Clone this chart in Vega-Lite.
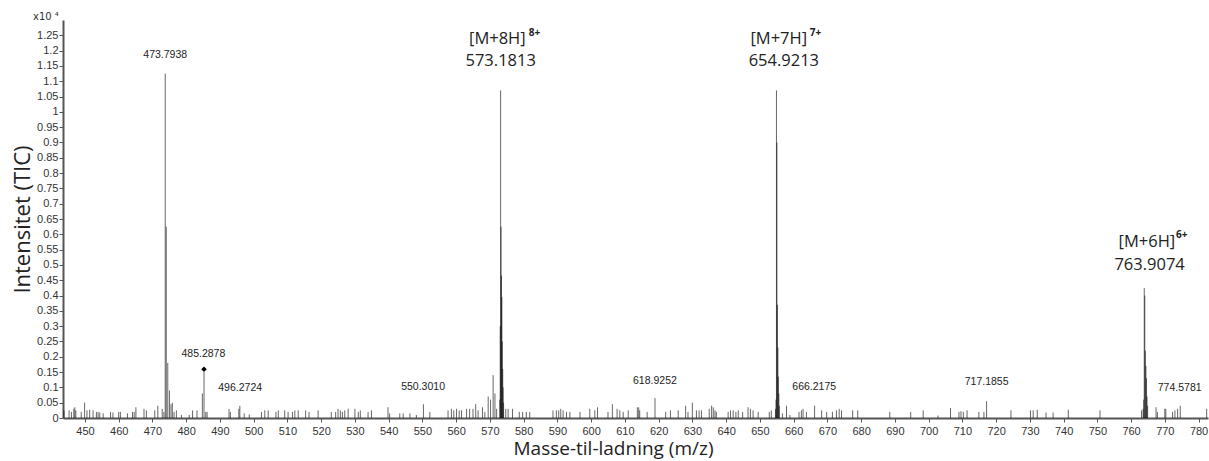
{
  "$schema": "https://vega.github.io/schema/vega-lite/v6.json",
  "autosize": "none",
  "width": 1145,
  "height": 398,
  "padding": {"left": 63, "top": 20, "right": 1, "bottom": 43},
  "background": "white",
  "config": {"view": {"stroke": null}, "font": "Liberation Sans"},
  "title": {"text": "x10 ⁴", "anchor": "start", "frame": "group", "dx": -30, "offset": -2, "fontSize": 10, "font": "DejaVu Sans", "fontWeight": "normal", "color": "#333"},
  "datasets": {
    "spectrum": [
      {"mz": 443.8, "i": 0.025}, {"mz": 445.3, "i": 0.025}, {"mz": 446.0, "i": 0.02}, {"mz": 446.7, "i": 0.03}, {"mz": 447.0, "i": 0.035}, {"mz": 447.3, "i": 0.025},
      {"mz": 448.9, "i": 0.02}, {"mz": 449.9, "i": 0.05}, {"mz": 450.6, "i": 0.025}, {"mz": 451.4, "i": 0.027}, {"mz": 452.4, "i": 0.025}, {"mz": 453.4, "i": 0.02},
      {"mz": 453.9, "i": 0.02}, {"mz": 454.4, "i": 0.018}, {"mz": 455.4, "i": 0.015}, {"mz": 457.6, "i": 0.02}, {"mz": 458.3, "i": 0.018}, {"mz": 460.0, "i": 0.02},
      {"mz": 460.5, "i": 0.02}, {"mz": 462.6, "i": 0.015}, {"mz": 464.1, "i": 0.02}, {"mz": 464.6, "i": 0.02}, {"mz": 465.1, "i": 0.035}, {"mz": 467.5, "i": 0.03},
      {"mz": 468.2, "i": 0.025}, {"mz": 470.7, "i": 0.025}, {"mz": 471.6, "i": 0.04}, {"mz": 472.9, "i": 0.03}, {"mz": 473.4, "i": 0.02},
      {"mz": 473.7938, "i": 1.125}, {"mz": 474.1, "i": 0.625}, {"mz": 474.55, "i": 0.18}, {"mz": 475.05, "i": 0.09}, {"mz": 475.5, "i": 0.045},
      {"mz": 475.9, "i": 0.05}, {"mz": 476.4, "i": 0.02}, {"mz": 477.1, "i": 0.025}, {"mz": 478.6, "i": 0.01}, {"mz": 480.9, "i": 0.01}, {"mz": 481.9, "i": 0.025},
      {"mz": 483.2, "i": 0.025}, {"mz": 484.8, "i": 0.08}, {"mz": 485.2878, "i": 0.15}, {"mz": 485.8, "i": 0.02}, {"mz": 486.2, "i": 0.02}, {"mz": 492.7, "i": 0.03},
      {"mz": 493.1, "i": 0.02}, {"mz": 495.6, "i": 0.03}, {"mz": 495.9, "i": 0.04}, {"mz": 497.2, "i": 0.015}, {"mz": 498.7, "i": 0.012}, {"mz": 502.3, "i": 0.02},
      {"mz": 503.3, "i": 0.025}, {"mz": 504.3, "i": 0.025}, {"mz": 506.6, "i": 0.02}, {"mz": 507.3, "i": 0.025}, {"mz": 509.2, "i": 0.025}, {"mz": 510.2, "i": 0.02},
      {"mz": 511.5, "i": 0.02}, {"mz": 512.2, "i": 0.025}, {"mz": 513.2, "i": 0.025}, {"mz": 515.4, "i": 0.025}, {"mz": 516.4, "i": 0.02}, {"mz": 519.1, "i": 0.025},
      {"mz": 523.0, "i": 0.02}, {"mz": 524.3, "i": 0.02}, {"mz": 525.0, "i": 0.03}, {"mz": 525.7, "i": 0.025}, {"mz": 526.3, "i": 0.02}, {"mz": 527.0, "i": 0.025},
      {"mz": 528.0, "i": 0.03}, {"mz": 530.0, "i": 0.03}, {"mz": 531.0, "i": 0.02}, {"mz": 531.6, "i": 0.025}, {"mz": 533.9, "i": 0.02}, {"mz": 534.9, "i": 0.025},
      {"mz": 539.8, "i": 0.035}, {"mz": 540.3, "i": 0.015}, {"mz": 543.3, "i": 0.015}, {"mz": 544.3, "i": 0.015}, {"mz": 546.3, "i": 0.015}, {"mz": 548.2, "i": 0.01},
      {"mz": 550.3, "i": 0.045}, {"mz": 552.2, "i": 0.02}, {"mz": 557.6, "i": 0.025}, {"mz": 558.6, "i": 0.03}, {"mz": 559.3, "i": 0.025}, {"mz": 560.1, "i": 0.03},
      {"mz": 560.9, "i": 0.025}, {"mz": 561.6, "i": 0.025}, {"mz": 563.1, "i": 0.03}, {"mz": 564.0, "i": 0.03}, {"mz": 565.0, "i": 0.03}, {"mz": 565.8, "i": 0.045},
      {"mz": 566.5, "i": 0.025}, {"mz": 567.8, "i": 0.035}, {"mz": 568.5, "i": 0.02}, {"mz": 569.5, "i": 0.07}, {"mz": 570.2, "i": 0.06}, {"mz": 570.96, "i": 0.14},
      {"mz": 571.5, "i": 0.08}, {"mz": 572.0, "i": 0.03},
      {"mz": 572.93, "i": 0.06}, {"mz": 573.06, "i": 0.3}, {"mz": 573.1813, "i": 1.07}, {"mz": 573.31, "i": 0.625}, {"mz": 573.43, "i": 0.465}, {"mz": 573.56, "i": 0.395},
      {"mz": 573.68, "i": 0.25}, {"mz": 573.81, "i": 0.16}, {"mz": 573.93, "i": 0.1}, {"mz": 574.06, "i": 0.05},
      {"mz": 574.7, "i": 0.03}, {"mz": 575.4, "i": 0.03}, {"mz": 576.7, "i": 0.03}, {"mz": 578.7, "i": 0.02}, {"mz": 579.7, "i": 0.02}, {"mz": 580.8, "i": 0.02},
      {"mz": 581.8, "i": 0.02}, {"mz": 588.7, "i": 0.025}, {"mz": 589.7, "i": 0.025}, {"mz": 590.4, "i": 0.025}, {"mz": 591.0, "i": 0.03}, {"mz": 591.7, "i": 0.025},
      {"mz": 592.7, "i": 0.02}, {"mz": 593.7, "i": 0.02}, {"mz": 596.7, "i": 0.02}, {"mz": 599.6, "i": 0.03}, {"mz": 601.1, "i": 0.025}, {"mz": 601.9, "i": 0.035},
      {"mz": 605.0, "i": 0.02}, {"mz": 606.3, "i": 0.045}, {"mz": 607.7, "i": 0.03}, {"mz": 608.5, "i": 0.025}, {"mz": 609.5, "i": 0.02}, {"mz": 611.0, "i": 0.025},
      {"mz": 613.7, "i": 0.035}, {"mz": 614.1, "i": 0.035}, {"mz": 614.4, "i": 0.025}, {"mz": 616.6, "i": 0.02}, {"mz": 618.9252, "i": 0.065}, {"mz": 622.1, "i": 0.02},
      {"mz": 623.5, "i": 0.025}, {"mz": 625.8, "i": 0.025}, {"mz": 628.0, "i": 0.04}, {"mz": 628.7, "i": 0.02}, {"mz": 630.0, "i": 0.05}, {"mz": 631.2, "i": 0.025},
      {"mz": 632.0, "i": 0.025}, {"mz": 632.7, "i": 0.025}, {"mz": 635.0, "i": 0.03}, {"mz": 635.7, "i": 0.04}, {"mz": 636.2, "i": 0.035}, {"mz": 636.7, "i": 0.025},
      {"mz": 637.1, "i": 0.02}, {"mz": 640.6, "i": 0.02}, {"mz": 641.3, "i": 0.025}, {"mz": 642.1, "i": 0.025}, {"mz": 642.9, "i": 0.02}, {"mz": 643.6, "i": 0.025},
      {"mz": 644.9, "i": 0.02}, {"mz": 646.5, "i": 0.035}, {"mz": 647.2, "i": 0.03}, {"mz": 648.0, "i": 0.025}, {"mz": 649.5, "i": 0.02}, {"mz": 652.8, "i": 0.02},
      {"mz": 653.4, "i": 0.025},
      {"mz": 654.64, "i": 0.03}, {"mz": 654.78, "i": 0.06}, {"mz": 654.9213, "i": 1.07}, {"mz": 655.06, "i": 0.9}, {"mz": 655.21, "i": 0.37}, {"mz": 655.35, "i": 0.23},
      {"mz": 655.49, "i": 0.135}, {"mz": 655.64, "i": 0.08}, {"mz": 655.78, "i": 0.04},
      {"mz": 656.7, "i": 0.015}, {"mz": 657.9, "i": 0.04}, {"mz": 658.9, "i": 0.01}, {"mz": 661.6, "i": 0.02}, {"mz": 662.3, "i": 0.025}, {"mz": 662.8, "i": 0.03},
      {"mz": 663.8, "i": 0.02}, {"mz": 666.2175, "i": 0.04}, {"mz": 668.3, "i": 0.025}, {"mz": 669.8, "i": 0.02}, {"mz": 671.5, "i": 0.02}, {"mz": 672.7, "i": 0.025},
      {"mz": 673.5, "i": 0.03}, {"mz": 674.2, "i": 0.025}, {"mz": 677.5, "i": 0.025}, {"mz": 679.0, "i": 0.025}, {"mz": 688.5, "i": 0.02}, {"mz": 694.7, "i": 0.02},
      {"mz": 698.4, "i": 0.025}, {"mz": 702.8, "i": 0.008}, {"mz": 706.5, "i": 0.033}, {"mz": 709.0, "i": 0.02}, {"mz": 709.6, "i": 0.022}, {"mz": 710.3, "i": 0.02},
      {"mz": 711.4, "i": 0.025}, {"mz": 714.9, "i": 0.02}, {"mz": 716.4, "i": 0.02}, {"mz": 717.1855, "i": 0.055}, {"mz": 724.4, "i": 0.025}, {"mz": 730.2, "i": 0.025},
      {"mz": 731.0, "i": 0.025}, {"mz": 732.2, "i": 0.027}, {"mz": 734.8, "i": 0.018}, {"mz": 736.9, "i": 0.018}, {"mz": 741.4, "i": 0.027}, {"mz": 750.8, "i": 0.025},
      {"mz": 763.1, "i": 0.025},
      {"mz": 763.57, "i": 0.03}, {"mz": 763.74, "i": 0.06}, {"mz": 763.9074, "i": 0.425}, {"mz": 764.07, "i": 0.4}, {"mz": 764.24, "i": 0.22}, {"mz": 764.41, "i": 0.17},
      {"mz": 764.57, "i": 0.13}, {"mz": 764.74, "i": 0.07}, {"mz": 764.91, "i": 0.04},
      {"mz": 767.4, "i": 0.035}, {"mz": 767.8, "i": 0.02}, {"mz": 770.0, "i": 0.03}, {"mz": 770.3, "i": 0.03}, {"mz": 772.3, "i": 0.02}, {"mz": 773.0, "i": 0.025},
      {"mz": 773.8, "i": 0.03}, {"mz": 774.5781, "i": 0.04}, {"mz": 782.4, "i": 0.03}
    ],
    "markers": [{"mz": 485.2878, "i": 0.159}],
    "peakLabels": [
      {"mz": 473.7938, "i": 1.186, "label": "473.7938"},
      {"mz": 485.1, "i": 0.208, "label": "485.2878"},
      {"mz": 496.0, "i": 0.099, "label": "496.2724"},
      {"mz": 550.2, "i": 0.102, "label": "550.3010"},
      {"mz": 618.9, "i": 0.122, "label": "618.9252"},
      {"mz": 666.1, "i": 0.1, "label": "666.2175"},
      {"mz": 717.2, "i": 0.117, "label": "717.1855"},
      {"mz": 774.4, "i": 0.097, "label": "774.5781"}
    ],
    "ionLabels": [
      {"mz": 572.2, "i": 1.2376, "label": "[M+8H]"},
      {"mz": 573.2, "i": 1.1667, "label": "573.1813"},
      {"mz": 655.6, "i": 1.2376, "label": "[M+7H]"},
      {"mz": 657.1, "i": 1.1667, "label": "654.9213"},
      {"mz": 764.7, "i": 0.576, "label": "[M+6H]"},
      {"mz": 765.5, "i": 0.5, "label": "763.9074"}
    ],
    "chargeLabels": [
      {"mz": 581.5, "i": 1.257, "label": "8+"},
      {"mz": 664.8, "i": 1.257, "label": "7+"},
      {"mz": 773.3, "i": 0.598, "label": "6+"}
    ]
  },
  "encoding": {
    "x": {
      "field": "mz", "type": "quantitative",
      "scale": {"domain": [443.5, 782.8], "nice": false, "zero": false},
      "axis": {
        "values": [450, 460, 470, 480, 490, 500, 510, 520, 530, 540, 550, 560, 570, 580, 590, 600, 610, 620, 630, 640, 650, 660, 670, 680, 690, 700, 710, 720, 730, 740, 750, 760, 770, 780],
        "grid": false, "labelFont": "Liberation Sans", "labelFontSize": 11, "labelColor": "#333", "labelPadding": 3,
        "tickSize": 4, "tickColor": "#555", "domainColor": "#555", "domainWidth": 2, "labelFlush": false, "labelOverlap": false,
        "title": "Masse-til-ladning (m/z)", "titleFont": "Open Sans", "titleFontSize": 19, "titleFontWeight": "normal", "titleColor": "#222", "titlePadding": 3, "titleX": 550
      }
    },
    "y": {
      "field": "i", "type": "quantitative",
      "scale": {"domain": [0, 1.3], "nice": false},
      "axis": {
        "values": [0, 0.05, 0.1, 0.15, 0.2, 0.25, 0.3, 0.35, 0.4, 0.45, 0.5, 0.55, 0.6, 0.65, 0.7, 0.75, 0.8, 0.85, 0.9, 0.95, 1, 1.05, 1.1, 1.15, 1.2, 1.25],
        "format": "~g", "grid": false, "labelFont": "Liberation Sans", "labelFontSize": 11, "labelColor": "#333", "labelPadding": 1,
        "tickSize": 4, "tickColor": "#555", "domainColor": "#555", "domainWidth": 2, "labelOverlap": false,
        "title": "Intensitet (TIC)", "titleFont": "Open Sans", "titleFontSize": 22, "titleFontWeight": "normal", "titleColor": "#222", "titlePadding": 2
      }
    }
  },
  "layer": [
    {
      "data": {"name": "spectrum"},
      "mark": {"type": "rule", "color": "#000", "strokeWidth": 1, "opacity": 0.6},
      "encoding": {"y2": {"datum": 0}}
    },
    {
      "data": {"name": "markers"},
      "mark": {"type": "point", "shape": "diamond", "filled": true, "color": "#000", "size": 30, "opacity": 1}
    },
    {
      "data": {"name": "peakLabels"},
      "mark": {"type": "text", "font": "Liberation Sans", "fontSize": 10.5, "color": "#222", "baseline": "middle", "align": "center"},
      "encoding": {"text": {"field": "label"}}
    },
    {
      "data": {"name": "ionLabels"},
      "mark": {"type": "text", "font": "Open Sans", "fontSize": 16.5, "color": "#222", "baseline": "middle", "align": "center"},
      "encoding": {"text": {"field": "label"}}
    },
    {
      "data": {"name": "chargeLabels"},
      "mark": {"type": "text", "font": "Open Sans", "fontSize": 10, "fontWeight": "bold", "color": "#222", "baseline": "middle", "align": "left"},
      "encoding": {"text": {"field": "label"}}
    }
  ]
}
